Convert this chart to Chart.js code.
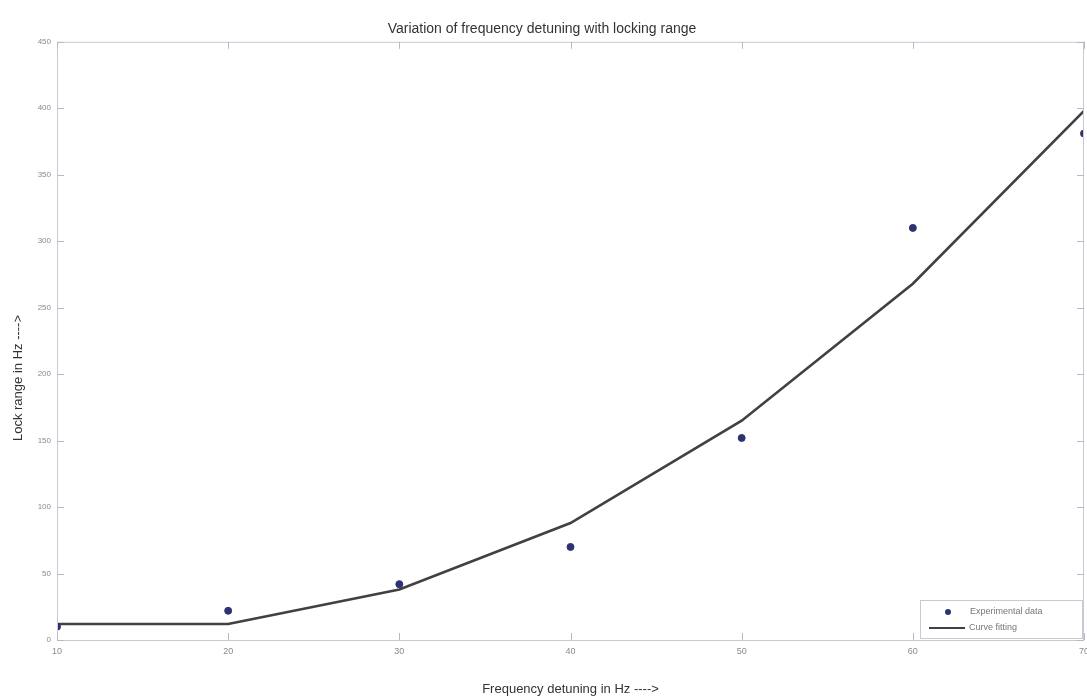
<!DOCTYPE html>
<html>
<head>
<meta charset="utf-8">
<script src="https://cdn.jsdelivr.net/npm/chart.js@4/dist/chart.umd.min.js"></script>
<style>
html,body{margin:0;padding:0;background:#fff;}
#wrap{width:1087px;height:697px;position:relative;}
</style>
</head>
<body>
<div id="wrap"><canvas id="c" width="1087" height="697"></canvas></div>
<script>
const detuning = [10, 20, 30, 40, 50, 60, 70];
const experimental = [10, 22, 42, 70, 152, 310, 381];
const curveFit = [12, 12, 38, 88, 165, 268, 398];
const xTicks = [10, 20, 30, 40, 50, 60, 70];
const yTicks = [0, 50, 100, 150, 200, 250, 300, 350, 400, 450];

const titleText = 'Variation of frequency detuning with locking range';
const xTitle = 'Frequency detuning in Hz ---->';
const yTitle = 'Lock range in Hz ---->';
const legendLabels = ['Experimental data', 'Curve fitting'];
const FONT = '"Liberation Sans", Arial, sans-serif';

const boxPlugin = {
  id: 'box',
  afterDraw(chart) {
    const {ctx, chartArea: a, scales} = chart;
    ctx.save();
    ctx.strokeStyle = '#c9c9d6';
    ctx.lineWidth = 1;
    ctx.strokeRect(a.left + 0.5, a.top + 0.5, a.right - a.left - 1, a.bottom - a.top);
    ctx.strokeStyle = '#b8b8c8';
    xTicks.forEach(v => {
      const x = Math.round(scales.x.getPixelForValue(v)) + 0.5;
      ctx.beginPath(); ctx.moveTo(x, a.bottom); ctx.lineTo(x, a.bottom - 7); ctx.stroke();
      ctx.beginPath(); ctx.moveTo(x, a.top); ctx.lineTo(x, a.top + 7); ctx.stroke();
    });
    yTicks.forEach(v => {
      const y = Math.round(scales.y.getPixelForValue(v)) + 0.5;
      ctx.beginPath(); ctx.moveTo(a.left, y); ctx.lineTo(a.left + 7, y); ctx.stroke();
      ctx.beginPath(); ctx.moveTo(a.right, y); ctx.lineTo(a.right - 7, y); ctx.stroke();
    });
    ctx.save();
    ctx.translate(18, 378);
    ctx.rotate(-Math.PI / 2);
    ctx.font = '13px ' + FONT;
    ctx.fillStyle = '#333';
    ctx.textAlign = 'center';
    ctx.textBaseline = 'middle';
    ctx.fillText(yTitle, 0, 0);
    ctx.restore();
    const ds = chart.data.datasets;
    const w = 162, h = 38;
    const lx = a.right - w - 2, ly = a.bottom - h - 2;
    ctx.fillStyle = '#fff';
    ctx.fillRect(lx, ly, w, h);
    ctx.strokeStyle = '#c9c9d6';
    ctx.strokeRect(lx + 0.5, ly + 0.5, w, h);
    ctx.font = '9px ' + FONT;
    ctx.textBaseline = 'middle';
    ctx.beginPath();
    ctx.fillStyle = ds[0].pointBackgroundColor;
    ctx.arc(lx + 28, ly + 12, 3, 0, Math.PI * 2);
    ctx.fill();
    ctx.fillStyle = '#777';
    ctx.fillText(legendLabels[0], lx + 50, ly + 12);
    ctx.strokeStyle = ds[1].borderColor;
    ctx.lineWidth = 2;
    ctx.beginPath(); ctx.moveTo(lx + 9, ly + 28); ctx.lineTo(lx + 45, ly + 28); ctx.stroke();
    ctx.fillText(legendLabels[1], lx + 49, ly + 28);
    ctx.restore();
  }
};

new Chart(document.getElementById('c'), {
  type: 'scatter',
  data: {
    datasets: [
      {
        label: legendLabels[0],
        data: detuning.map((x, i) => ({x, y: experimental[i]})),
        showLine: false,
        pointRadius: 3.5,
        pointBackgroundColor: '#2e3270',
        pointBorderColor: '#2e3270',
        order: 1
      },
      {
        label: legendLabels[1],
        data: detuning.map((x, i) => ({x, y: curveFit[i]})),
        showLine: true,
        borderColor: '#414145',
        borderWidth: 2.6,
        pointRadius: 0,
        tension: 0,
        order: 2
      }
    ]
  },
  options: {
    responsive: false,
    animation: false,
    layout: {autoPadding: false, padding: {top: 0, right: 3, bottom: 0, left: 0}},
    plugins: {
      legend: {display: false},
      tooltip: {enabled: false},
      title: {
        display: true,
        text: titleText,
        color: '#333',
        font: {family: FONT, size: 14, weight: 'normal'},
        padding: {top: 21, bottom: 4}
      }
    },
    scales: {
      x: {
        type: 'linear',
        min: 10, max: 70,
        afterBuildTicks: s => { s.ticks = xTicks.map(v => ({value: v})); },
        grid: {display: false, drawTicks: false},
        border: {display: false},
        ticks: {color: '#8a8a8a', font: {family: FONT, size: 9}, padding: 6, maxRotation: 0},
        title: {display: true, text: xTitle, color: '#333', font: {family: FONT, size: 13}, padding: {top: 8, bottom: 0}},
        afterFit: s => { s.height = 57; s.paddingLeft = 0; s.paddingRight = 0; }
      },
      y: {
        type: 'linear',
        min: 0, max: 450,
        afterBuildTicks: s => { s.ticks = yTicks.map(v => ({value: v})); },
        grid: {display: false, drawTicks: false},
        border: {display: false},
        ticks: {color: '#8a8a8a', font: {family: FONT, size: 8}, padding: 6},
        title: {display: false},
        afterFit: s => { s.width = 57; s.paddingTop = 0; s.paddingBottom = 0; }
      }
    }
  },
  plugins: [boxPlugin]
});
</script>
</body>
</html>
